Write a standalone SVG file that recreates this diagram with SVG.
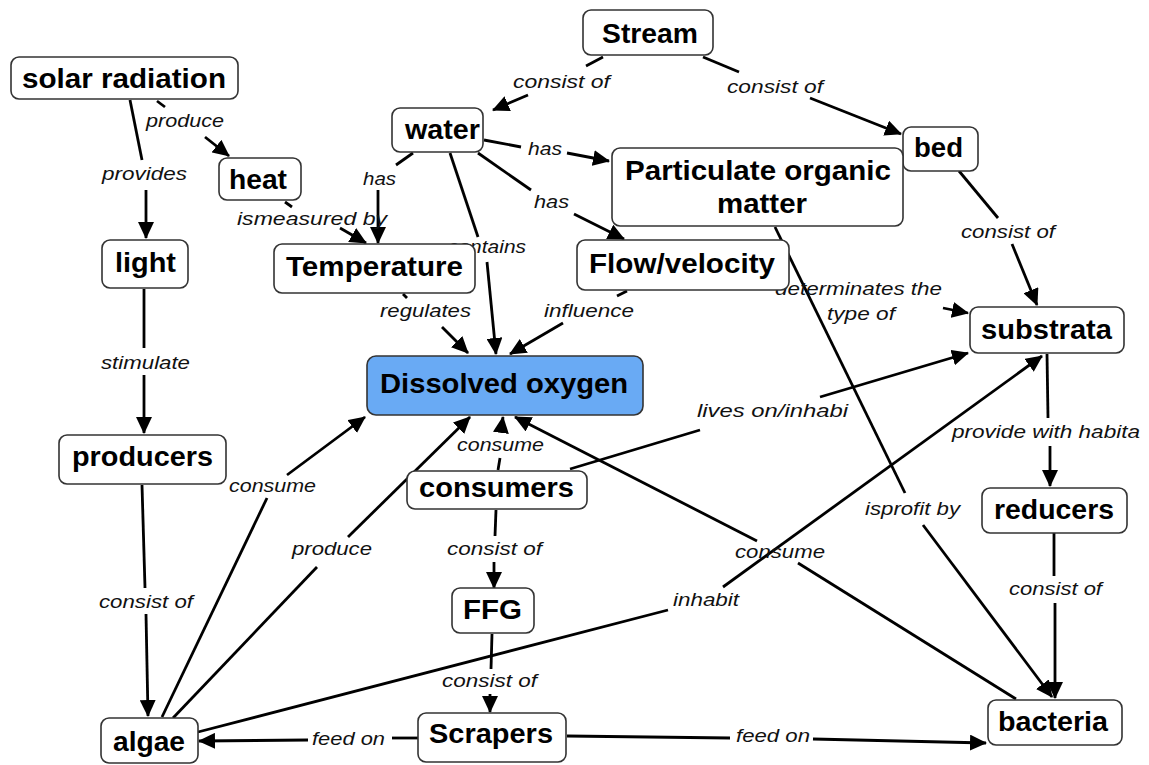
<svg xmlns="http://www.w3.org/2000/svg" width="1149" height="765" viewBox="0 0 1149 765">
<style>
.c line{stroke:#000;stroke-width:2.8;fill:none}
.a{marker-end:url(#ah)}
.n rect{fill:#fff;stroke:#333;stroke-width:1.6}
.n text{font-family:"Liberation Sans",Arial,sans-serif;font-weight:bold;font-size:28px;fill:#000}
.l{font-family:"Liberation Sans",Arial,sans-serif;font-style:italic;font-size:18px;fill:#111}
</style>
<defs>
<marker id="ah" markerUnits="userSpaceOnUse" viewBox="0 0 17 16" refX="16" refY="8" markerWidth="17" markerHeight="16" orient="auto">
<path d="M0,0 L17,8 L0,16 z" fill="#000"/>
</marker>
</defs>
<rect width="1149" height="765" fill="#fff"/>
<g id="connectors" class="c">
<line x1="130" y1="100" x2="142" y2="160"/><line class="a" x1="146" y1="190" x2="146" y2="238"/>
<line x1="157" y1="101" x2="165" y2="107"/><line class="a" x1="205" y1="137" x2="229" y2="156"/>
<line x1="285" y1="202" x2="292" y2="207"/><line class="a" x1="340" y1="228" x2="366" y2="243"/>
<line x1="413" y1="153" x2="396" y2="165"/><line class="a" x1="378" y1="190" x2="378" y2="243"/>
<line x1="450" y1="153" x2="478" y2="237"/><line class="a" x1="487" y1="262" x2="496" y2="354"/>
<line x1="484" y1="140" x2="521" y2="147"/><line class="a" x1="567" y1="153" x2="609" y2="161"/>
<line x1="478" y1="153" x2="531" y2="190"/><line class="a" x1="574" y1="214" x2="624" y2="239"/>
<line x1="603" y1="57" x2="586" y2="66"/><line class="a" x1="528" y1="95" x2="493" y2="110"/>
<line x1="703" y1="57" x2="739" y2="72"/><line class="a" x1="810" y1="98" x2="901" y2="134"/>
<line x1="959" y1="171" x2="998" y2="218"/><line class="a" x1="1012" y1="244" x2="1037" y2="305"/>
<line x1="403" y1="294" x2="407" y2="298"/><line class="a" x1="442" y1="327" x2="468" y2="353"/>
<line x1="627" y1="291" x2="617" y2="296"/><line class="a" x1="563" y1="323" x2="510" y2="354"/>
<line class="a" x1="943" y1="308" x2="968" y2="313"/>
<line x1="775" y1="227" x2="905" y2="493"/><line class="a" x1="923" y1="525" x2="1052" y2="697"/>
<line x1="1047" y1="354" x2="1048" y2="418"/><line class="a" x1="1050" y1="446" x2="1050" y2="486"/>
<line x1="1054" y1="533" x2="1054" y2="576"/><line class="a" x1="1055" y1="603" x2="1055" y2="698"/>
<line x1="142" y1="485" x2="145" y2="588"/><line class="a" x1="146" y1="614" x2="148" y2="716"/>
<line x1="144" y1="289" x2="144" y2="348"/><line class="a" x1="144" y1="375" x2="144" y2="433"/>
<line x1="162" y1="717" x2="267" y2="498"/><line class="a" x1="287" y1="475" x2="365" y2="417"/>
<line x1="173" y1="718" x2="317" y2="567"/><line class="a" x1="348" y1="537" x2="470" y2="417"/>
<line x1="498" y1="470" x2="500" y2="458"/><line class="a" x1="501" y1="432" x2="503" y2="417"/>
<line x1="1016" y1="699" x2="798" y2="563"/><line class="a" x1="757" y1="541" x2="515" y2="417"/>
<line x1="570" y1="469" x2="700" y2="430"/><line class="a" x1="820" y1="397" x2="968" y2="353"/>
<line x1="198" y1="732" x2="668" y2="610"/><line class="a" x1="723" y1="587" x2="1042" y2="356"/>
<line x1="418" y1="738" x2="392" y2="738"/><line class="a" x1="308" y1="740" x2="199" y2="741"/>
<line x1="567" y1="736" x2="730" y2="738"/><line class="a" x1="813" y1="739" x2="986" y2="743"/>
<line x1="496" y1="510" x2="495" y2="536"/><line class="a" x1="494" y1="562" x2="494" y2="588"/>
<line x1="492" y1="634" x2="491" y2="669"/><line class="a" x1="490" y1="694" x2="490" y2="712"/>
</g>
<g id="labels">
<text class="l" x="102" y="180" textLength="85" lengthAdjust="spacingAndGlyphs">provides</text>
<text class="l" x="146" y="127" textLength="78" lengthAdjust="spacingAndGlyphs">produce</text>
<text class="l" x="237" y="225" textLength="150" lengthAdjust="spacingAndGlyphs">ismeasured by</text>
<text class="l" x="363" y="185" textLength="33" lengthAdjust="spacingAndGlyphs">has</text>
<text class="l" x="448" y="253" textLength="78" lengthAdjust="spacingAndGlyphs">contains</text>
<text class="l" x="528" y="155" textLength="34" lengthAdjust="spacingAndGlyphs">has</text>
<text class="l" x="534" y="208" textLength="35" lengthAdjust="spacingAndGlyphs">has</text>
<text class="l" x="513" y="88" textLength="97" lengthAdjust="spacingAndGlyphs">consist of</text>
<text class="l" x="727" y="93" textLength="96" lengthAdjust="spacingAndGlyphs">consist of</text>
<text class="l" x="961" y="238" textLength="94" lengthAdjust="spacingAndGlyphs">consist of</text>
<text class="l" x="775" y="295" textLength="167" lengthAdjust="spacingAndGlyphs">determinates the</text>
<text class="l" x="827" y="320" textLength="68" lengthAdjust="spacingAndGlyphs">type of</text>
<text class="l" x="380" y="317" textLength="91" lengthAdjust="spacingAndGlyphs">regulates</text>
<text class="l" x="544" y="317" textLength="90" lengthAdjust="spacingAndGlyphs">influence</text>
<text class="l" x="697" y="417" textLength="151" lengthAdjust="spacingAndGlyphs">lives on/inhabi</text>
<text class="l" x="952" y="438" textLength="188" lengthAdjust="spacingAndGlyphs">provide with habita</text>
<text class="l" x="865" y="515" textLength="95" lengthAdjust="spacingAndGlyphs">isprofit by</text>
<text class="l" x="1009" y="595" textLength="93" lengthAdjust="spacingAndGlyphs">consist of</text>
<text class="l" x="735" y="558" textLength="90" lengthAdjust="spacingAndGlyphs">consume</text>
<text class="l" x="673" y="606" textLength="66" lengthAdjust="spacingAndGlyphs">inhabit</text>
<text class="l" x="457" y="451" textLength="87" lengthAdjust="spacingAndGlyphs">consume</text>
<text class="l" x="447" y="555" textLength="95" lengthAdjust="spacingAndGlyphs">consist of</text>
<text class="l" x="442" y="687" textLength="95" lengthAdjust="spacingAndGlyphs">consist of</text>
<text class="l" x="736" y="742" textLength="74" lengthAdjust="spacingAndGlyphs">feed on</text>
<text class="l" x="312" y="745" textLength="73" lengthAdjust="spacingAndGlyphs">feed on</text>
<text class="l" x="101" y="369" textLength="89" lengthAdjust="spacingAndGlyphs">stimulate</text>
<text class="l" x="229" y="492" textLength="87" lengthAdjust="spacingAndGlyphs">consume</text>
<text class="l" x="292" y="555" textLength="80" lengthAdjust="spacingAndGlyphs">produce</text>
<text class="l" x="99" y="608" textLength="94" lengthAdjust="spacingAndGlyphs">consist of</text>
</g>
<g id="solar-radiation" class="n"><rect x="11" y="57" width="227" height="42" rx="8"/><text x="22" y="88" textLength="204" lengthAdjust="spacingAndGlyphs">solar radiation</text></g>
<g id="heat" class="n"><rect x="219" y="158" width="82" height="42" rx="8"/><text x="229" y="189" textLength="58" lengthAdjust="spacingAndGlyphs">heat</text></g>
<g id="light" class="n"><rect x="102" y="240" width="86" height="48" rx="8"/><text x="115" y="272" textLength="61" lengthAdjust="spacingAndGlyphs">light</text></g>
<g id="temperature" class="n"><rect x="274" y="244" width="201" height="49" rx="8"/><text x="286" y="276" textLength="177" lengthAdjust="spacingAndGlyphs">Temperature</text></g>
<g id="water" class="n"><rect x="392" y="108" width="91" height="44" rx="8"/><text x="405" y="139" textLength="75" lengthAdjust="spacingAndGlyphs">water</text></g>
<g id="stream" class="n"><rect x="583" y="10" width="130" height="45" rx="8"/><text x="602" y="43" textLength="96" lengthAdjust="spacingAndGlyphs">Stream</text></g>
<g id="bed" class="n"><rect x="903" y="127" width="75" height="44" rx="8"/><text x="914" y="157" textLength="49" lengthAdjust="spacingAndGlyphs">bed</text></g>
<g id="pom" class="n"><rect x="612" y="148" width="291" height="78" rx="8"/><text x="625" y="180" textLength="266" lengthAdjust="spacingAndGlyphs">Particulate organic</text><text x="717" y="213" textLength="90" lengthAdjust="spacingAndGlyphs">matter</text></g>
<g id="flow-velocity" class="n"><rect x="577" y="240" width="212" height="50" rx="8"/><text x="589" y="273" textLength="186" lengthAdjust="spacingAndGlyphs">Flow/velocity</text></g>
<g id="substrata" class="n"><rect x="970" y="307" width="154" height="46" rx="8"/><text x="981" y="339" textLength="131" lengthAdjust="spacingAndGlyphs">substrata</text></g>
<g id="reducers" class="n"><rect x="982" y="488" width="145" height="45" rx="8"/><text x="994" y="519" textLength="120" lengthAdjust="spacingAndGlyphs">reducers</text></g>
<g id="bacteria" class="n"><rect x="988" y="700" width="134" height="45" rx="8"/><text x="998" y="731" textLength="110" lengthAdjust="spacingAndGlyphs">bacteria</text></g>
<g id="dissolved-oxygen" class="n"><rect x="367" y="356" width="276" height="59" rx="9" style="fill:#69aaf4"/><text x="380" y="393" textLength="248" lengthAdjust="spacingAndGlyphs">Dissolved oxygen</text></g>
<g id="consumers" class="n"><rect x="407" y="471" width="180" height="38" rx="8"/><text x="419" y="497" textLength="155" lengthAdjust="spacingAndGlyphs">consumers</text></g>
<g id="ffg" class="n"><rect x="452" y="588" width="82" height="45" rx="8"/><text x="463" y="619" textLength="59" lengthAdjust="spacingAndGlyphs">FFG</text></g>
<g id="scrapers" class="n"><rect x="418" y="713" width="148" height="49" rx="8"/><text x="429" y="743" textLength="124" lengthAdjust="spacingAndGlyphs">Scrapers</text></g>
<g id="producers" class="n"><rect x="59" y="435" width="167" height="49" rx="8"/><text x="72" y="466" textLength="141" lengthAdjust="spacingAndGlyphs">producers</text></g>
<g id="algae" class="n"><rect x="101" y="718" width="97" height="45" rx="8"/><text x="113" y="751" textLength="72" lengthAdjust="spacingAndGlyphs">algae</text></g>
</svg>
